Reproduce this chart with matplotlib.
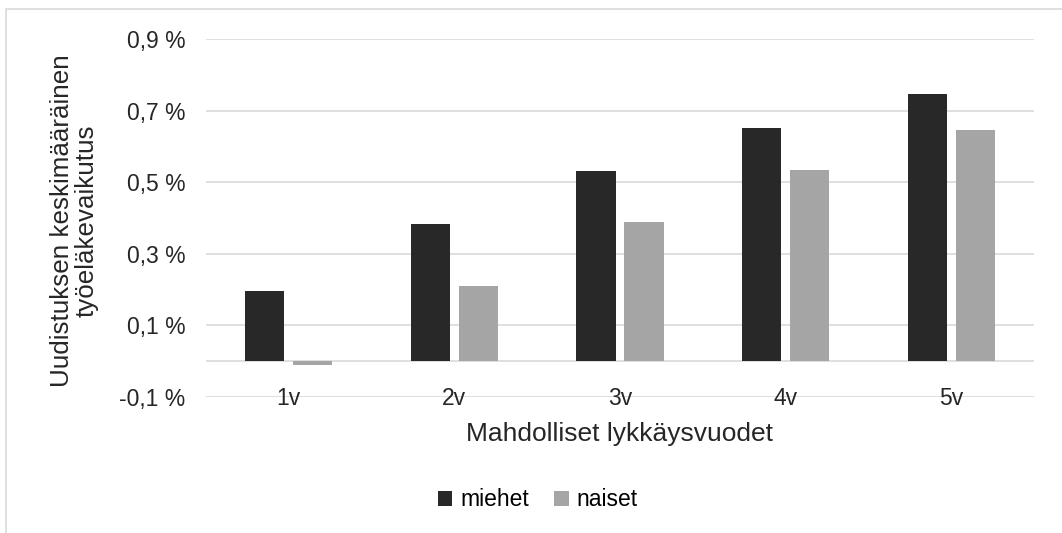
import matplotlib
matplotlib.use("Agg")
import matplotlib.pyplot as plt
from matplotlib.patches import Rectangle
import numpy as np

categories = ["1v", "2v", "3v", "4v", "5v"]
miehet = [0.196, 0.384, 0.532, 0.652, 0.745]
naiset = [-0.012, 0.211, 0.390, 0.535, 0.647]
yticks = [-0.1, 0.1, 0.3, 0.5, 0.7, 0.9]
ytick_labels = ["-0,1 %", "0,1 %", "0,3 %", "0,5 %", "0,7 %", "0,9 %"]

plt.rcParams['font.family'] = ['Liberation Sans', 'DejaVu Sans']

W, H = 1062, 533
fig = plt.figure(figsize=(W/100, H/100), dpi=100)
fig.patches.append(Rectangle((6/W, -0.2), 1.2, 1.2 - 9/H, transform=fig.transFigure,
                             fill=False, edgecolor='#d9d9d9', linewidth=1.2))

ax = fig.add_axes([206/W, 1 - 397/H, (1034-206)/W, (397-39)/H])
x = np.arange(len(categories))
bw = 0.236
gap = 0.054
ax.bar(x - (bw+gap)/2, miehet, bw, color='#282828', label='miehet', zorder=3)
ax.bar(x + (bw+gap)/2, naiset, bw, color='#a5a5a5', label='naiset', zorder=3)

ax.set_xlim(-0.5, len(categories) - 0.5)
ax.set_ylim(-0.1, 0.9)
ax.set_yticks(yticks)
ax.set_yticklabels(ytick_labels, fontsize=16.5, color='#262626')
for yv in yticks:
    ax.axhline(yv, color='#d9d9d9', linewidth=1.2, zorder=1)
ax.axhline(0, color='#d9d9d9', linewidth=1.2, zorder=2)
ax.set_xticks(x)
ax.set_xticklabels(categories, fontsize=16.5, color='#262626')
ax.tick_params(axis='x', length=0, pad=-7.5)
ax.tick_params(axis='y', length=0, pad=15)
for s in ax.spines.values():
    s.set_visible(False)

fig.text(620/W, 1 - 434/H, "Mahdolliset lykkäysvuodet", ha='center', va='center',
         fontsize=19, color='#262626')
fig.text(74.5/W, 1 - 221/H, "Uudistuksen keskimääräinen\ntyöeläkevaikutus", rotation=90,
         ha='center', va='center', fontsize=18.7, color='#262626', linespacing=1.02)

fig.legend(loc='center', bbox_to_anchor=(538/W, 1 - 500/H), ncol=2, frameon=False,
           fontsize=16.5, handlelength=0.62, handleheight=0.62, columnspacing=1.1,
           handletextpad=0.35)

fig.savefig("out.png", dpi=100)
